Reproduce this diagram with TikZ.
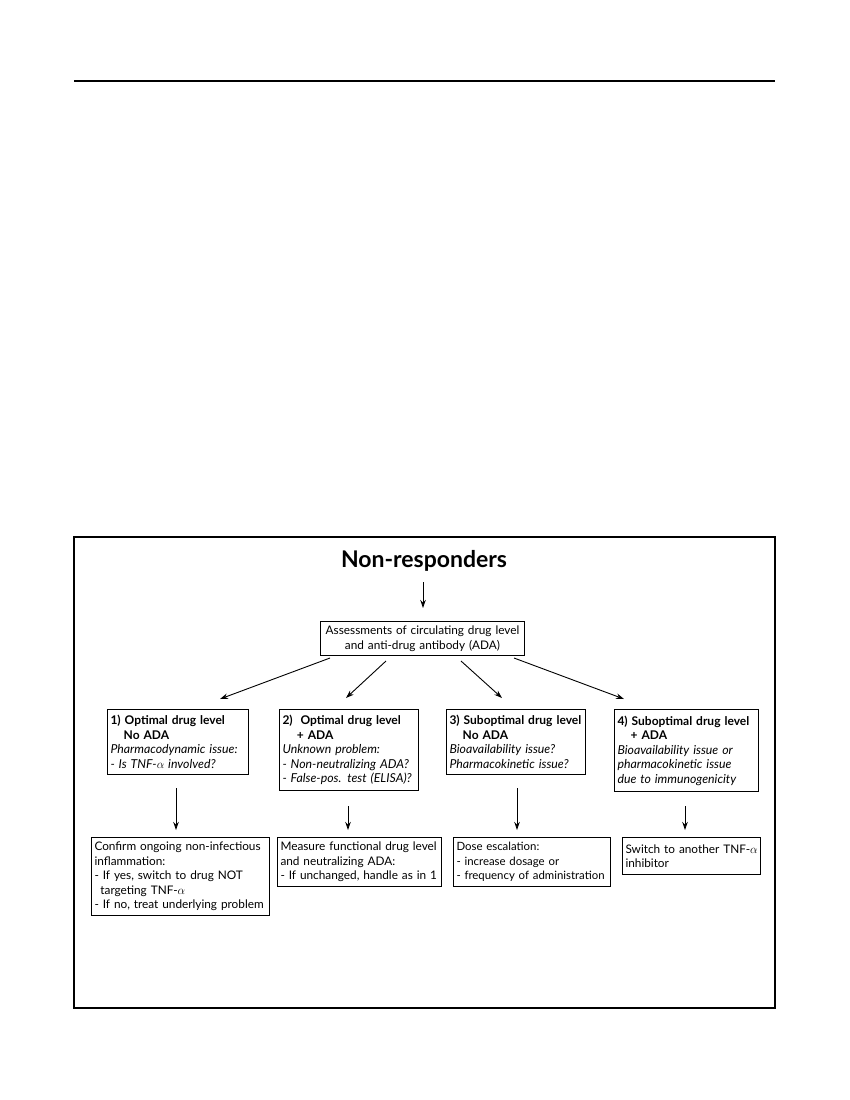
\documentclass[tikz,border=0pt]{standalone}
\usepackage{fontspec}
\setmainfont{Lato}
\usetikzlibrary{arrows.meta,calc}
\newcommand{\hdl}[1]{\mbox{\fontsize{12}{14.5}\selectfont\bfseries #1}}
\newcommand{\itl}[1]{\mbox{\fontsize{12.3}{14.5}\selectfont\itshape #1}}
\newcommand{\ml}[1]{\mbox{#1}}
\begin{document}
\begin{tikzpicture}[x=1pt,y=-1pt,
  box/.style={draw,line width=1pt,rectangle,anchor=north west,align=left,
    inner xsep=3pt,inner ysep=2pt,font=\fontsize{11.8}{14.5}\selectfont},
  arr/.style={line width=0.9pt,-{Stealth[length=8pt,width=5.5pt]}}]
\useasboundingbox (0,0) rectangle (850,1100);
\draw[line width=1.3pt] (74,81) -- (775,81);
\draw[line width=1.3pt] (74,537) rectangle (775,1008);

\node[font=\fontsize{23}{27}\selectfont\bfseries] (title) at (424,561) {Non-responders};
\node[box,align=center,minimum width=204pt,minimum height=34pt,text width=198pt] (assess) at (320,621)
  {\ml{Assessments of circulating drug level}\\\ml{and anti-drug antibody (ADA)}};

\node[box,minimum width=141pt,minimum height=65pt,text width=135pt] (b1) at (107,709)
  {\hdl{1) Optimal drug level}\\\hdl{\hspace*{1.1em}No ADA}\\\itl{Pharmacodynamic issue:}\\\itl{- Is TNF-$\alpha$ involved?}};
\node[box,minimum width=139pt,minimum height=81pt,text width=133pt] (b2) at (279,709)
  {\hdl{2)\ \ Optimal drug level}\\\hdl{\hspace*{1.2em}+ ADA}\\\itl{Unknown problem:}\\\itl{- Non-neutralizing ADA?}\\\itl{- False-pos. test (ELISA)?}};
\node[box,minimum width=139pt,minimum height=65pt,text width=133pt] (b3) at (446,709)
  {\hdl{3) Suboptimal drug level}\\\hdl{\hspace*{1.1em}No ADA}\\\itl{Bioavailability issue?}\\\itl{Pharmacokinetic issue?}};
\node[box,minimum width=144pt,minimum height=82pt,text width=138pt] (b4) at (614,709)
  {\hdl{4) Suboptimal drug level}\\\hdl{\hspace*{1.1em}+ ADA}\\\itl{Bioavailability issue or}\\\itl{pharmacokinetic issue}\\\itl{due to immunogenicity}};

\node[box,minimum width=178pt,minimum height=78pt,text width=172pt,inner xsep=2.5pt] (c1) at (91,837)
  {\ml{Confirm ongoing non-infectious}\\\ml{inflammation:}\\\ml{- If yes, switch to drug NOT}\\\ml{\hspace*{0.5em}targeting TNF-$\alpha$}\\\ml{- If no, treat underlying problem}};
\node[box,minimum width=164pt,minimum height=49pt,text width=158pt] (c2) at (277,837)
  {\ml{Measure functional drug level}\\\ml{and neutralizing ADA:}\\\ml{- If unchanged, handle as in 1}};
\node[box,minimum width=157pt,minimum height=49pt,text width=151pt,font=\fontsize{11.4}{14.5}\selectfont] (c3) at (453,837)
  {\ml{Dose escalation:}\\\ml{- increase dosage or}\\\ml{- frequency of administration}};
\node[box,minimum width=138pt,minimum height=37pt,text width=132pt] (c4) at (622,837)
  {\ml{Switch to another TNF-$\alpha$}\\\ml{inhibitor}};

% connectors
\coordinate (t0) at (423,582);
\coordinate (t1) at (423,608);
\draw[arr] (t0) -- (t1);

\coordinate (s1) at (330,658); \coordinate (e1) at (220,699);
\coordinate (s2) at (386,661); \coordinate (e2) at (346,698);
\coordinate (s3) at (461,661); \coordinate (e3) at (502,698);
\coordinate (s4) at (514,658); \coordinate (e4) at (624,699);
\draw[arr] (s1) -- (e1);
\draw[arr] (s2) -- (e2);
\draw[arr] (s3) -- (e3);
\draw[arr] (s4) -- (e4);

\coordinate (v1s) at (176,788); \coordinate (v1e) at (176,830);
\coordinate (v2s) at (348,806); \coordinate (v2e) at (348,830);
\coordinate (v3s) at (517,788); \coordinate (v3e) at (517,830);
\coordinate (v4s) at (685,806); \coordinate (v4e) at (685,830);
\draw[arr] (v1s) -- (v1e);
\draw[arr] (v2s) -- (v2e);
\draw[arr] (v3s) -- (v3e);
\draw[arr] (v4s) -- (v4e);
\end{tikzpicture}
\end{document}
